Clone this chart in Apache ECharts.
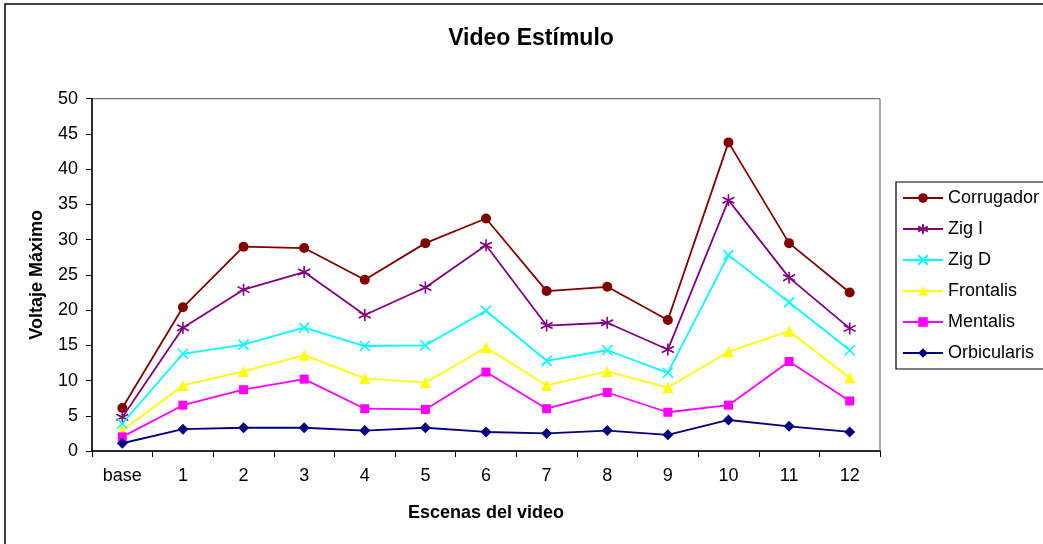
<!DOCTYPE html>
<html>
<head>
<meta charset="utf-8">
<script src="https://cdn.jsdelivr.net/npm/echarts@6/dist/echarts.min.js"></script>
<style>
html,body{margin:0;padding:0;background:#fff;}
#c{width:1043px;height:544px;}
</style>
</head>
<body>
<div id="c"></div>
<script>
const categories = ['base','1','2','3','4','5','6','7','8','9','10','11','12'];
const corrugador = [6.1,20.4,29.0,28.8,24.3,29.5,33.0,22.7,23.3,18.6,43.8,29.5,22.5];
const zigI = [4.8,17.5,22.9,25.4,19.3,23.2,29.2,17.8,18.2,14.4,35.6,24.6,17.4];
const zigD = [3.9,13.8,15.1,17.5,14.9,15.0,19.9,12.8,14.3,11.1,27.8,21.1,14.3];
const frontalis = [2.9,9.3,11.3,13.6,10.3,9.7,14.7,9.3,11.3,9.0,14.1,17.0,10.4];
const mentalis = [2.0,6.5,8.7,10.2,6.0,5.9,11.2,6.0,8.3,5.5,6.5,12.7,7.1];
const orbicularis = [1.1,3.1,3.3,3.3,2.9,3.3,2.7,2.5,2.9,2.3,4.4,3.5,2.7];
const yTicks = [0,5,10,15,20,25,30,35,40,45,50];

const font = 'Liberation Sans, Arial, sans-serif';
const asterisk = 'path://M0,-1L0,1M-0.87,-0.5L0.87,0.5M-0.87,0.5L0.87,-0.5';
const cross = 'path://M-1,-1L1,1M-1,1L1,-1';

function mk(name, data, color, symbol, size, stroke) {
  return {
    name: name, type: 'line', data: data,
    symbol: symbol, symbolSize: size,
    lineStyle: {color: color, width: 1.8},
    itemStyle: stroke ? {color: color, borderColor: color, borderWidth: 1.6} : {color: color},
    emphasis: {disabled: true},
    animation: false
  };
}

const chart = echarts.init(document.getElementById('c'));
chart.setOption({
  backgroundColor: '#fff',
  animation: false,
  title: {
    text: 'Video Estímulo', left: 526, top: 22, textAlign: 'center',
    textStyle: {fontFamily: font, fontWeight: 'bold', fontSize: 23, color: '#000'}
  },
  graphic: [{
    type: 'rect', shape: {x: 5, y: 4, width: 1100, height: 600},
    style: {fill: 'none', stroke: '#000', lineWidth: 1.5}, silent: true
  }],
  legend: {
    orient: 'vertical', left: 896, top: 182,
    padding: [7, 20, 7, 6],
    itemWidth: 40, itemHeight: 12, itemGap: 13,
    borderColor: '#000', borderWidth: 1.2,
    textStyle: {fontFamily: font, fontSize: 18, color: '#000', lineHeight: 17},
    data: ['Corrugador','Zig I','Zig D','Frontalis','Mentalis','Orbicularis']
  },
  grid: {left: 92, top: 98.7, right: 163, bottom: 93, show: true, borderColor: '#555', borderWidth: 1},
  xAxis: {
    type: 'category', data: categories, boundaryGap: true,
    name: 'Escenas del video', nameLocation: 'middle', nameGap: 53,
    nameTextStyle: {fontFamily: font, fontWeight: 'bold', fontSize: 18, color: '#000'},
    axisLine: {lineStyle: {color: '#000', width: 1.5}},
    axisTick: {show: true, alignWithLabel: false, interval: 0, length: 6, lineStyle: {color: '#000'}},
    axisLabel: {interval: 0, margin: 16, fontFamily: font, fontSize: 18, color: '#000'},
    splitLine: {show: false}
  },
  yAxis: {
    type: 'value', min: 0, max: 50, interval: 5,
    name: 'Voltaje Máximo', nameLocation: 'middle', nameGap: 46,
    nameTextStyle: {fontFamily: font, fontWeight: 'bold', fontSize: 18, color: '#000'},
    axisLine: {show: true, lineStyle: {color: '#000', width: 1.5}},
    axisTick: {show: true, length: 6, lineStyle: {color: '#000'}},
    axisLabel: {margin: 14, fontFamily: font, fontSize: 18, color: '#000',
      formatter: function (v) { return yTicks.indexOf(v) >= 0 ? String(v) : ''; }},
    splitLine: {show: false}
  },
  series: [
    mk('Corrugador', corrugador, '#800000', 'circle', 10, false),
    mk('Zig I', zigI, '#800080', asterisk, 12, true),
    mk('Zig D', zigD, '#00FFFF', cross, 10, true),
    mk('Frontalis', frontalis, '#FFFF00', 'triangle', 11, false),
    mk('Mentalis', mentalis, '#FF00FF', 'rect', 9, false),
    mk('Orbicularis', orbicularis, '#000080', 'diamond', 11, false)
  ]
});
</script>
</body>
</html>
